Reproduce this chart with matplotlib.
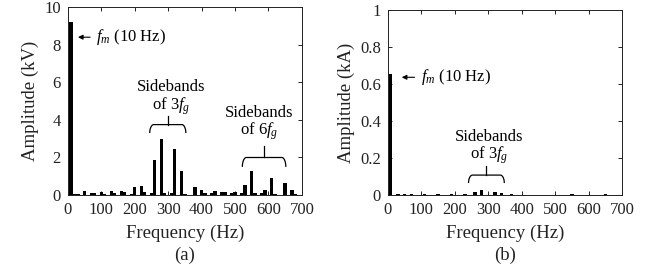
import matplotlib
matplotlib.use("Agg")
import matplotlib.pyplot as plt
import numpy as np

plt.rcParams['font.family'] = ['Liberation Serif', 'DejaVu Serif']
plt.rcParams['mathtext.fontset'] = 'custom'
plt.rcParams['mathtext.it'] = 'Liberation Serif:italic'
plt.rcParams['mathtext.rm'] = 'Liberation Serif'

# Voltage spectrum (a): frequency (Hz) -> amplitude (kV)
freq_a = [10, 20, 30, 50, 70, 80, 100, 110, 130, 140, 160, 170, 190, 200,
          220, 230, 250, 260, 280, 290, 310, 320, 340, 350, 380, 400, 410,
          430, 440, 460, 470, 490, 500, 520, 530, 550, 560, 580, 590, 610,
          620, 650, 670, 680]
amp_a = [9.2, 0.06, 0.05, 0.22, 0.12, 0.12, 0.15, 0.08, 0.2, 0.12, 0.2, 0.15,
         0.08, 0.42, 0.48, 0.15, 0.1, 1.85, 3.0, 0.1, 0.1, 2.45, 1.3, 0.05,
         0.42, 0.28, 0.1, 0.12, 0.2, 0.15, 0.15, 0.12, 0.15, 0.1, 0.55, 1.3,
         0.1, 0.12, 0.28, 0.92, 0.05, 0.65, 0.28, 0.05]

# Current spectrum (b): frequency (Hz) -> amplitude (kA)
freq_b = [8, 30, 50, 70, 90, 110, 130, 150, 170, 190, 210, 230, 260, 280,
          320, 340, 370, 400, 450, 500, 550, 600, 650]
amp_b = [0.655, 0.004, 0.004, 0.004, 0.003, 0.004, 0.003, 0.004, 0.003,
         0.004, 0.003, 0.004, 0.015, 0.025, 0.018, 0.012, 0.004, 0.003,
         0.003, 0.003, 0.004, 0.003, 0.004]

xticks = [0, 100, 200, 300, 400, 500, 600, 700]
yticks_a = [0, 2, 4, 6, 8, 10]
yticks_b = [0, 0.2, 0.4, 0.6, 0.8, 1]
yticklabels_b = ['0', '0.2', '0.4', '0.6', '0.8', '1']

fig = plt.figure(figsize=(6.52, 2.74), dpi=100)
ax1 = fig.add_axes([0.104, 0.288, 0.359, 0.686])
ax2 = fig.add_axes([0.595, 0.288, 0.359, 0.676])

FS = 12
LFS = 13.5
TXT = '#222222'

def style(ax):
    ax.set_xlim(0, 700)
    ax.set_xticks(xticks)
    ax.tick_params(direction='in', top=True, right=True, length=3,
                   labelsize=FS, width=0.6, pad=5, labelcolor=TXT)
    for s in ax.spines.values():
        s.set_linewidth(0.7)
        s.set_color('#222222')
    ax.set_xlabel('Frequency (Hz)', fontsize=LFS, labelpad=5, color=TXT)

def brace(ax, x0, x1, yt, yb, ys, d):
    xm = (x0 + x1) / 2
    t = np.linspace(0, np.pi / 2, 20)
    lx = x0 + d * (1 - np.cos(t))
    ly = yb + (yt - yb) * np.sin(t)
    rx = x1 - d * (1 - np.cos(t))[::-1]
    ry = (yb + (yt - yb) * np.sin(t))[::-1]
    xs = np.concatenate([lx, rx])
    ysv = np.concatenate([ly, ry])
    ax.plot(xs, ysv, color='black', lw=0.9, solid_capstyle='butt')
    ax.plot([xm, xm], [yt, ys], color='black', lw=0.9)

# Panel (a)
ax1.bar(freq_a, amp_a, width=10, color='black')
ax1.set_ylim(0, 10)
ax1.set_yticks(yticks_a)
style(ax1)
ax1.set_ylabel('Amplitude (kV)', fontsize=LFS, labelpad=4, color=TXT)
ax1.annotate('', xy=(22, 8.4), xytext=(75, 8.4),
             arrowprops=dict(arrowstyle='-|>', color='black', lw=0.8,
                             mutation_scale=7))
ax1.text(85, 8.4, r'$f_m$ (10 Hz)', fontsize=FS, va='center', ha='left')
ax1.text(310, 5.75, 'Sidebands', fontsize=FS, ha='center', va='center')
ax1.text(310, 4.75, r'of 3$f_g$', fontsize=FS, ha='center', va='center')
brace(ax1, 245, 353, 3.75, 3.3, 4.2, 12)
ax1.text(573, 4.35, 'Sidebands', fontsize=FS, ha='center', va='center')
ax1.text(573, 3.4, r'of 6$f_g$', fontsize=FS, ha='center', va='center')
brace(ax1, 522, 652, 2.0, 1.5, 2.6, 12)
ax1.text(0.5, -0.32, '(a)', transform=ax1.transAxes, fontsize=LFS,
         ha='center', va='center', color=TXT)

# Panel (b)
ax2.bar(freq_b, amp_b, width=10, color='black')
ax2.set_ylim(0, 1)
ax2.set_yticks(yticks_b)
ax2.set_yticklabels(yticklabels_b)
style(ax2)
ax2.set_ylabel('Amplitude (kA)', fontsize=LFS, labelpad=4, color=TXT)
ax2.annotate('', xy=(33, 0.636), xytext=(88, 0.636),
             arrowprops=dict(arrowstyle='-|>', color='black', lw=0.8,
                             mutation_scale=7))
ax2.text(98, 0.636, r'$f_m$ (10 Hz)', fontsize=FS, va='center', ha='left')
ax2.text(303, 0.315, 'Sidebands', fontsize=FS, ha='center', va='center')
ax2.text(303, 0.215, r'of 3$f_g$', fontsize=FS, ha='center', va='center')
brace(ax2, 241, 348, 0.108, 0.065, 0.155, 12)
ax2.text(0.5, -0.32 * 0.686 / 0.676, '(b)', transform=ax2.transAxes,
         fontsize=LFS, ha='center', va='center', color=TXT)

fig.savefig('out.png', dpi=100)
